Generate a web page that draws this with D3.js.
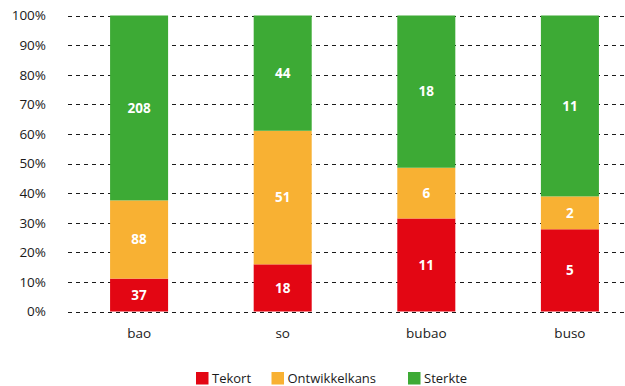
<!DOCTYPE html>
<html>
<head>
<meta charset="utf-8">
<script src="https://cdn.jsdelivr.net/npm/d3@7"></script>
<style>
  html, body { margin: 0; padding: 0; background: #fff; }
  svg { display: block; font-family: "Open Sans", "Noto Sans", sans-serif; }
</style>
</head>
<body>
<div id="chart"></div>
<script>
// Categories and counts per level
const categories = ["bao", "so", "bubao", "buso"];
const tekort = [37, 18, 11, 5];
const ontwikkelkans = [88, 51, 6, 2];
const sterkte = [208, 44, 18, 11];
const seriesNames = ["Tekort", "Ontwikkelkans", "Sterkte"];
const seriesColors = ["#E30613", "#F8B133", "#3DAA35"];
const yTicks = [0, 0.1, 0.2, 0.3, 0.4, 0.5, 0.6, 0.7, 0.8, 0.9, 1];

const W = 625, H = 386;
const svg = d3.select("#chart").append("svg").attr("width", W).attr("height", H);

const rows = categories.map((c, i) => ({
  cat: c, Tekort: tekort[i], Ontwikkelkans: ontwikkelkans[i], Sterkte: sterkte[i]
}));

const stack = d3.stack().keys(seriesNames).offset(d3.stackOffsetExpand);
const stacked = stack(rows);

const x = d3.scaleBand().domain(categories).range([68, 641])
  .paddingInner(0.596).paddingOuter(0.293);
const y = d3.scaleLinear().domain([0, 1]).range([311.5, 15.5]);
const color = d3.scaleOrdinal().domain(seriesNames).range(seriesColors);

// Dashed gridlines
svg.append("g").selectAll("line").data(yTicks).join("line")
  .attr("x1", 68).attr("x2", W)
  .attr("y1", d => Math.round(y(d)) + 0.5).attr("y2", d => Math.round(y(d)) + 0.5)
  .attr("stroke", "#1a1a1a").attr("stroke-width", 1)
  .attr("stroke-dasharray", "4,4");

// Y axis labels
const yAxis = d3.axisLeft(y).tickValues(yTicks).tickFormat(d3.format(".0%")).tickSize(0).tickPadding(0);
svg.append("g").attr("transform", "translate(46,0)").call(yAxis)
  .call(g => g.select(".domain").remove())
  .selectAll("text")
  .attr("font-size", 13.5).attr("fill", "#1a1a1a")
  .attr("font-family", "'Open Sans', sans-serif");

// X axis labels
const xAxis = d3.axisBottom(x).tickSize(0).tickPadding(0);
svg.append("g").attr("transform", "translate(0,328.5)").call(xAxis)
  .call(g => g.select(".domain").remove())
  .selectAll("text")
  .attr("font-size", 13.5).attr("fill", "#1a1a1a")
  .attr("font-family", "'Open Sans', sans-serif");

// Stacked bars
const layers = svg.append("g").selectAll("g").data(stacked).join("g")
  .attr("fill", d => color(d.key));

layers.selectAll("rect").data(d => d).join("rect")
  .attr("x", d => x(d.data.cat))
  .attr("width", x.bandwidth())
  .attr("y", d => y(d[1]))
  .attr("height", d => y(d[0]) - y(d[1]));

// Value labels inside segments
layers.selectAll("text").data(d => d.map(v => ({ v, key: d.key }))).join("text")
  .attr("x", d => x(d.v.data.cat) + x.bandwidth() / 2)
  .attr("y", d => (y(d.v[0]) + y(d.v[1])) / 2)
  .attr("dy", "0.35em")
  .attr("text-anchor", "middle")
  .attr("fill", "#fff")
  .attr("font-weight", "bold")
  .attr("font-size", 13.5)
  .text(d => d.v.data[d.key]);

// Legend
const legendX = [196, 271.5, 408];
const legend = svg.append("g").selectAll("g").data(seriesNames).join("g")
  .attr("transform", (d, i) => `translate(${legendX[i]},372)`);
legend.append("rect").attr("width", 12.5).attr("height", 12.5).attr("fill", d => color(d));
legend.append("text").attr("x", 16).attr("y", 10.5)
  .attr("font-size", 13).attr("fill", "#1a1a1a").text(d => d);
</script>
</body>
</html>
